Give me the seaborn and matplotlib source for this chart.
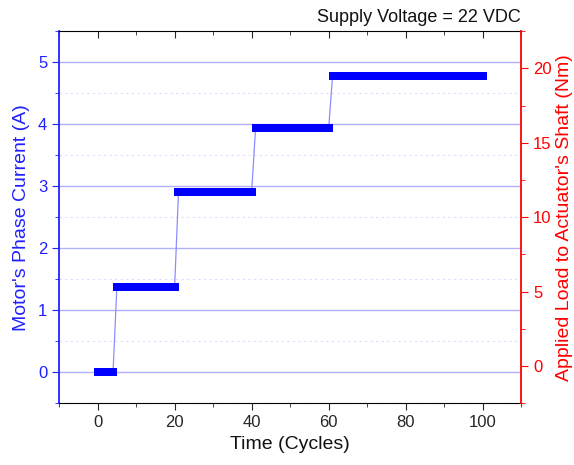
import numpy as np
import pandas as pd
import matplotlib
matplotlib.use("Agg")
import matplotlib.pyplot as plt
import seaborn as sns
from matplotlib.ticker import MultipleLocator

# Data: one reading per cycle
cycles = list(range(0, 101))
current = ([0.0] * 5 + [1.38] * 16 + [2.90] * 20 + [3.93] * 20 + [4.77] * 40)
x_ticks = [0, 20, 40, 60, 80, 100]
left_ticks = [0, 1, 2, 3, 4, 5]
right_ticks = [0, 5, 10, 15, 20]

df = pd.DataFrame({"Time (Cycles)": cycles, "Current": current})

sns.set_style("ticks")
plt.rcParams['font.family'] = ['Liberation Sans', 'DejaVu Sans']

fig = plt.figure(figsize=(5.74, 4.65), dpi=100)
ax = fig.add_axes([0.103, 0.133, 0.805, 0.800])

# grid
for v in left_ticks:
    ax.axhline(v, color='#b0b0ff', lw=1.0, zorder=0)
for v in np.arange(-0.5, 5.6, 1.0):
    ax.axhline(v, color='#dcdcff', lw=0.8, ls=(0, (2, 3)), zorder=0)

sns.lineplot(data=df, x="Time (Cycles)", y="Current", ax=ax, color='#8c8cff',
             lw=0.9, zorder=2)
sns.scatterplot(data=df, x="Time (Cycles)", y="Current", ax=ax, color='#0000ff',
                marker='s', s=38, linewidth=0, zorder=3)

ax.set_xlim(-10, 110)
ax.set_ylim(-0.5, 5.5)
ax.set_xticks(x_ticks)
ax.xaxis.set_minor_locator(MultipleLocator(10))
ax.set_yticks(left_ticks)
ax.yaxis.set_minor_locator(MultipleLocator(0.5))

blue = '#2020ff'
red = '#ff0000'
ax.spines['left'].set_color(blue)
ax.spines['left'].set_linewidth(1.3)
ax.spines['bottom'].set_color('black')
ax.spines['top'].set_color('black')
ax.spines['top'].set_visible(True)
ax.spines['right'].set_visible(False)
ax.tick_params(axis='y', which='both', colors=blue, labelsize=12, direction='out')
ax.tick_params(axis='y', which='major', length=5)
ax.tick_params(axis='y', which='minor', length=3)
ax.tick_params(axis='x', which='major', length=5, labelsize=12, direction='out')
ax.tick_params(axis='x', which='minor', length=3, direction='out')
ax.tick_params(axis='x', which='both', top=True)
ax.set_xlabel("Time (Cycles)", fontsize=14, color='#111111')
ax.set_ylabel("Motor's Phase Current (A)", fontsize=14, color=blue, labelpad=6)

ax2 = ax.twinx()
ax2.set_ylim(-2.5, 22.5)
ax2.set_yticks(right_ticks)
ax2.yaxis.set_minor_locator(MultipleLocator(2.5))
ax2.spines['right'].set_color(red)
ax2.spines['right'].set_linewidth(1.3)
ax2.spines['right'].set_visible(True)
ax2.spines['left'].set_visible(False)
ax2.spines['top'].set_visible(False)
ax2.spines['bottom'].set_visible(False)
ax2.tick_params(axis='y', which='both', colors=red, labelsize=12, direction='out')
ax2.tick_params(axis='y', which='major', length=5)
ax2.tick_params(axis='y', which='minor', length=3)
ax2.set_ylabel("Applied Load to Actuator's Shaft (Nm)", fontsize=14, color=red, labelpad=3)

# top ticks pointing inward
for t in ax.xaxis.get_major_ticks() + ax.xaxis.get_minor_ticks():
    t.tick2line.set_marker(3)

fig.text(0.908, 0.963, "Supply Voltage = 22 VDC", ha='right', va='center', fontsize=13, color='#111111')

fig.savefig("out.png", dpi=100)
